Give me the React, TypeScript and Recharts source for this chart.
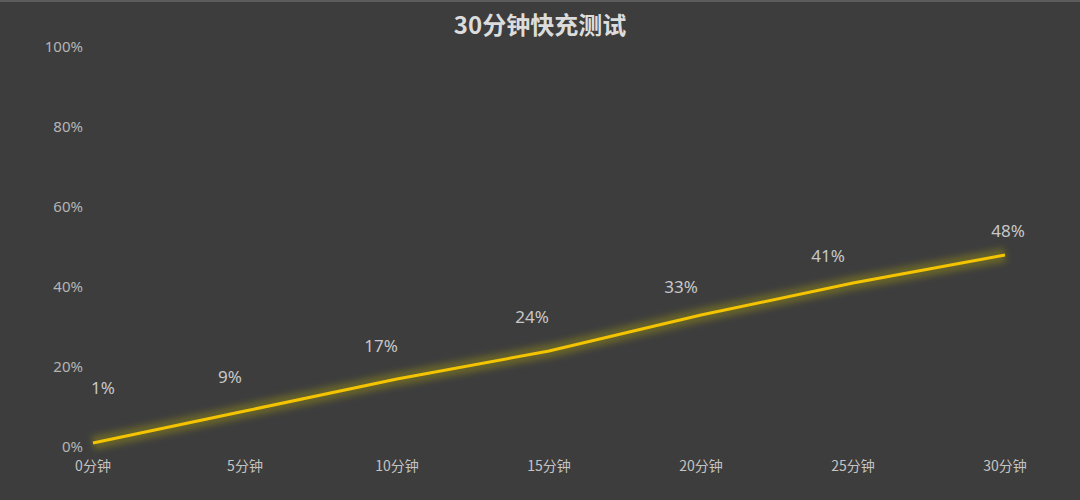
import React from 'react';
import { LineChart, Line, XAxis, YAxis, LabelList } from 'recharts';

const minutes = ['0分钟', '5分钟', '10分钟', '15分钟', '20分钟', '25分钟', '30分钟'];
const charge = [1, 9, 17, 24, 33, 41, 48];
const yTicks = [0, 20, 40, 60, 80, 100];

// label nudges (dx, dy) from each point, as placed in the original
const labelNudges = [
  [10, -56],
  [-15, -35],
  [-16, -34],
  [-17, -35],
  [-20, -29],
  [-25, -28],
  [3, -25],
];

const data = minutes.map((m, i) => ({ name: m, value: charge[i] }));

const PctLabel = (props: any) => {
  const { x, y, value, index } = props;
  const [dx, dy] = labelNudges[index] || [0, -20];
  return (
    <text
      x={x + dx}
      y={y + dy}
      textAnchor="middle"
      dominantBaseline="central"
      fill="#c8c8c8"
      fontSize={17}
      fontFamily="'Noto Sans', 'Noto Sans CJK SC', sans-serif"
    >
      {`${value}%`}
    </text>
  );
};

const App: React.FC = () => {
  return (
    <div
      style={{
        position: 'absolute',
        left: 0,
        top: 0,
        width: 1080,
        height: 500,
        background: '#3d3d3d',
        borderTop: '2px solid #5c5c5c',
        boxSizing: 'border-box',
        fontFamily: "'Noto Sans CJK SC', 'Noto Sans', sans-serif",
      }}
    >
      {/* Title */}
      <div
        style={{
          position: 'absolute',
          left: 0,
          top: 6,
          width: 1080,
          textAlign: 'center',
          color: '#dcdcdc',
          fontSize: 24,
          fontWeight: 700,
          lineHeight: '32px',
        }}
      >
        30分钟快充测试
      </div>

      <div style={{ position: 'absolute', left: 0, top: -2 }}>
        <LineChart width={1080} height={500} data={data} margin={{ top: 47, right: 75, bottom: 23, left: 33 }}>
          <defs>
            <filter id="glowBlur" x="-10%" y="-50%" width="120%" height="200%">
              <feGaussianBlur stdDeviation="3" />
            </filter>
          </defs>
          <XAxis
            dataKey="name"
            axisLine={false}
            tickLine={false}
            tickMargin={8}
            height={30}
            interval={0}
            tick={{ fill: '#c4c4c4', fontSize: 14, fontFamily: "'Noto Sans CJK SC', sans-serif" }}
          />
          <YAxis
            domain={[0, 100]}
            ticks={yTicks}
            width={60}
            axisLine={false}
            tickLine={false}
            tickMargin={4}
            tickFormatter={(v: number) => `${v}%`}
            tick={{ fill: '#b4b4b4', fontSize: 15, fontFamily: "'Noto Sans', sans-serif" }}
          />
          {/* soft glow under the line */}
          <Line
            type="linear"
            dataKey="value"
            stroke="#c8b800"
            strokeOpacity={0.3}
            strokeWidth={14}
            style={{ filter: 'url(#glowBlur)' }}
            dot={false}
            activeDot={false}
            isAnimationActive={false}
          />
          <Line
            type="linear"
            dataKey="value"
            stroke="#f5c400"
            strokeWidth={3}
            dot={false}
            activeDot={false}
            isAnimationActive={false}
          >
            <LabelList dataKey="value" content={<PctLabel />} />
          </Line>
        </LineChart>
      </div>
    </div>
  );
};

export default App;
